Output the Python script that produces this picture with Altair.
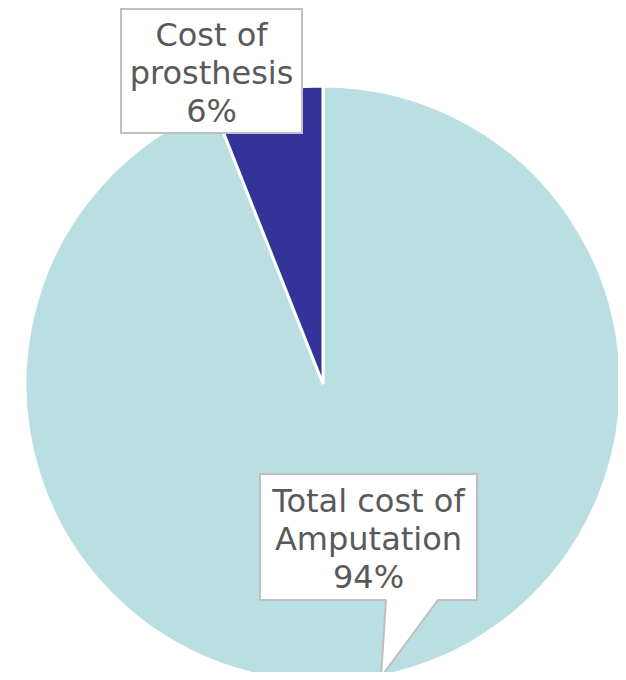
import altair as alt
import pandas as pd

# ---- data ----
categories = ["Total cost of Amputation", "Cost of prosthesis"]
values = [94, 6]
label_lines = [["Total cost of", "Amputation"], ["Cost of", "prosthesis"]]
colors = ["#B9DFE2", "#333399"]

# ---- layout (pixels, chart coordinates) ----
W, H = 610, 664
CX, CY, R = 315, 376, 298
FONT = "DejaVu Sans"
TXT = "#595959"
BOX_STROKE = "#BFBFBF"

pie_df = pd.DataFrame({"category": categories, "value": values, "idx": range(len(values))})
pie = alt.Chart(pie_df).mark_arc(radius=R, stroke="white", strokeWidth=3).encode(
    theta=alt.Theta("value:Q", stack=True),
    color=alt.Color("category:N", scale=alt.Scale(domain=categories, range=colors), legend=None),
    order=alt.Order("idx:Q"),
    x=alt.value(CX),
    y=alt.value(CY),
)

# callout boxes: (x1, x2, y1, y2, text_x, first_baseline)
boxes = {
    "Total cost of Amputation": (252, 469, 466, 592, 360.5, 503.5),
    "Cost of prosthesis": (113, 294, 1, 125, 203.5, 38),
}

layers = [pie]
for cat, val, lines in zip(categories, values, label_lines):
    x1, x2, y1, y2, tx, ty = boxes[cat]
    box = alt.Chart(pd.DataFrame({"a": [0]})).mark_rect(
        fill="white", stroke=BOX_STROKE, strokeWidth=2
    ).encode(x=alt.value(x1), x2=alt.value(x2), y=alt.value(y1), y2=alt.value(y2))
    layers.append(box)
    if cat == "Total cost of Amputation":
        tail_df = pd.DataFrame({"y": [590, 669], "x": [378.2, 373], "x2": [430.7, 373]})
        tail = alt.Chart(tail_df).mark_area(orient="horizontal", fill="white", stroke=None).encode(
            y=alt.Y("y:Q", scale=None),
            x=alt.X("x:Q", scale=None),
            x2="x2:Q",
        )
        edges_df = pd.DataFrame({"x": [378, 430], "y": [592, 592], "x2": [373, 373], "y2": [669, 669]})
        edges = alt.Chart(edges_df).mark_rule(color=BOX_STROKE, strokeWidth=2).encode(
            x=alt.X("x:Q", scale=None), x2="x2:Q",
            y=alt.Y("y:Q", scale=None), y2="y2:Q",
        )
        layers += [tail, edges]
    label = "\n".join(lines + [f"{val}%"])
    txt = alt.Chart(pd.DataFrame({"t": [label]})).mark_text(
        font=FONT, fontSize=32, lineHeight=38, color=TXT, align="center",
        baseline="alphabetic", lineBreak="\n",
    ).encode(text="t:N", x=alt.value(tx), y=alt.value(ty))
    layers.append(txt)

chart = alt.layer(*layers).properties(
    width=W, height=H, autosize=alt.AutoSizeParams(type="none"), padding=0
).configure_view(stroke=None)

chart.save("out.html", embed_options={"renderer": "svg", "actions": False})
